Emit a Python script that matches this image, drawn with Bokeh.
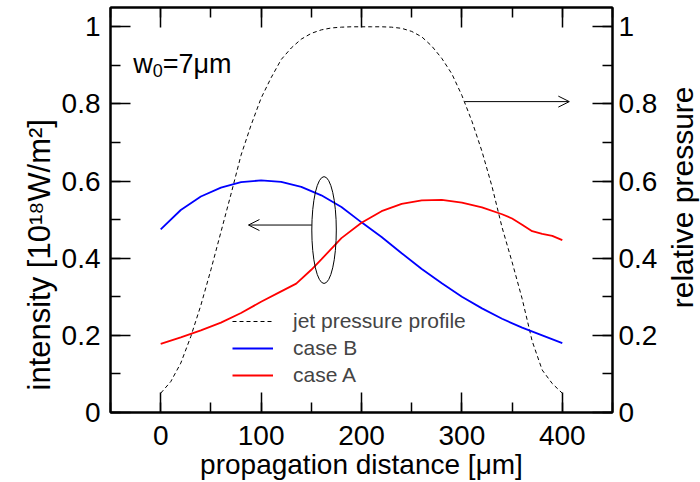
import math
from bokeh.plotting import figure
from bokeh.layouts import row
from bokeh.models import (LinearAxis, Range1d, SingleIntervalTicker, CustomJSTickFormatter,
                          Arrow, OpenHead, Legend, LegendItem, CustomLabelingPolicy, Label, Title)
from bokeh.core.properties import value
from bokeh.embed import file_html
from bokeh.resources import INLINE

# ---- data ----
dist_B = [0, 20, 40, 60, 80, 100, 120, 140, 160, 180, 200, 220, 240, 260, 280, 300, 320, 340, 360, 380, 400]
intensity_B = [0.475, 0.525, 0.560, 0.583, 0.597, 0.602, 0.598, 0.585, 0.563, 0.533, 0.493, 0.455,
               0.413, 0.372, 0.335, 0.300, 0.270, 0.243, 0.220, 0.200, 0.180]

dist_A = [0, 20, 40, 60, 80, 100, 120, 135, 150, 160, 180, 200, 220, 240, 260, 280, 300, 320, 340,
          350, 360, 370, 380, 390, 400]
intensity_A = [0.178, 0.195, 0.213, 0.233, 0.258, 0.287, 0.314, 0.334, 0.370, 0.397, 0.452, 0.492,
               0.522, 0.541, 0.550, 0.551, 0.544, 0.532, 0.514, 0.503, 0.487, 0.470, 0.463, 0.458, 0.447]

dist_P = [0, 10, 20, 30, 40, 50, 60, 70, 80, 90, 100, 110, 120, 130, 140, 150, 160, 170, 180, 190, 200,
          210, 220, 230, 240, 250, 260, 270, 280, 290, 300, 310, 320, 330, 340, 350, 360, 370, 380, 390, 400]
pressure = [0.050, 0.080, 0.128, 0.197, 0.278, 0.370, 0.468, 0.566, 0.667, 0.745, 0.815, 0.868, 0.915,
            0.945, 0.968, 0.983, 0.992, 0.997, 0.999, 1.000, 1.000,
            1.000, 1.000, 0.999, 0.996, 0.988, 0.974, 0.950, 0.918, 0.878, 0.822, 0.755, 0.677, 0.586,
            0.480, 0.390, 0.295, 0.185, 0.110, 0.075, 0.050]

series_labels = ["jet pressure profile", "case B", "case A"]
x_label = "propagation distance [μm]"
y_label = "intensity [10¹⁸W/m²]"
y2_label = "relative pressure"
note_parts = [("w", False), ("0", True), ("=7μm", False)]

FONT = "Liberation Sans"

# ---- layout (pixels) ----
W, H = 700, 482
SIDE_W = 40                      # narrow strip on the right holding the right-hand axis title
MAIN_W = W - SIDE_W
FRAME_L, FRAME_R, FRAME_T, FRAME_B = 110, 615, 7, 412
X0, X1, Y0, Y1 = -50, 450, 0, 1.05
PX_X = (FRAME_R - FRAME_L) / (X1 - X0)
PX_Y = (FRAME_B - FRAME_T) / (Y1 - Y0)

def dx(px):
    return X0 + (px - FRAME_L) / PX_X

def dy(py):
    return Y0 + (FRAME_B - py) / PX_Y

ADV = {"w": .722, "0": .556, "=": .584, "7": .556, "μ": .576, "m": .833}

def text_w(s, fs):
    return sum(ADV.get(c, .556) for c in s) * fs

p = figure(width=MAIN_W, height=H, x_range=Range1d(X0, X1), y_range=Range1d(Y0, Y1),
           output_backend="svg", toolbar_location=None,
           min_border_left=FRAME_L, min_border_right=MAIN_W - FRAME_R,
           min_border_top=FRAME_T, min_border_bottom=H - FRAME_B)
p.extra_y_ranges = {"p": Range1d(Y0, Y1)}
p.xgrid.visible = False
p.ygrid.visible = False
p.outline_line_color = "black"
p.outline_line_width = 2
p.background_fill_color = "white"
p.border_fill_color = "white"

FMT_CODE = "return tick.toFixed(1).replace(/\\.0$/, '');"

def style_axis(ax):
    ax.axis_line_width = 2
    ax.major_tick_in = 20
    ax.major_tick_out = 0
    ax.minor_tick_in = 10
    ax.minor_tick_out = 0
    ax.major_tick_line_width = 1.5
    ax.minor_tick_line_width = 1.5
    ax.major_label_text_font = FONT
    ax.major_label_text_font_size = "28px"
    ax.major_label_text_color = "black"
    ax.axis_label_text_font = FONT
    ax.axis_label_text_font_size = "28px"
    ax.axis_label_text_font_style = "normal"
    ax.axis_label_text_color = "black"

p.xaxis.ticker = SingleIntervalTicker(interval=100, num_minor_ticks=2)
p.yaxis.ticker = SingleIntervalTicker(interval=0.2, num_minor_ticks=2)
p.yaxis.formatter = CustomJSTickFormatter(code=FMT_CODE)
p.xaxis.axis_label = x_label
style_axis(p.xaxis[0])
style_axis(p.yaxis[0])
p.xaxis.major_label_standoff = 13
p.xaxis.axis_label_standoff = 1
p.yaxis.major_label_standoff = 10

top = LinearAxis(ticker=SingleIntervalTicker(interval=100, num_minor_ticks=2),
                 major_label_policy=CustomLabelingPolicy(
                     code="for (const i of [...indices]) { indices.unset(i) } return indices;"))
style_axis(top)
top.major_label_text_font_size = "0px"
top.major_label_standoff = 0
p.add_layout(top, "above")

right = LinearAxis(y_range_name="p", ticker=SingleIntervalTicker(interval=0.2, num_minor_ticks=2),
                   formatter=CustomJSTickFormatter(code=FMT_CODE))
style_axis(right)
right.major_label_standoff = 6
p.add_layout(right, "right")

# left axis title as a side title so it can sit below centre like the reference
ytitle = Title(text=y_label, align="left", offset=22, standoff=4,
               text_font=FONT, text_font_size="31px", text_font_style="normal", text_color="black")
p.add_layout(ytitle, "left")

# ---- series ----
r_p = p.line(dist_P, pressure, y_range_name="p", line_color="black", line_width=1, line_dash="4 3")
r_b = p.line(dist_B, intensity_B, line_color="#0000ff", line_width=1.8)
r_a = p.line(dist_A, intensity_A, line_color="#ff0000", line_width=1.8)

# ---- annotations ----
ELL_X, ELL_Y, ELL_W, ELL_H = 162.7, 0.473, 24.4, 0.277
LARROW = (150.5, 0.486, 87.4, 0.486)
RARROW = (303.0, 0.806, 407.0, 0.806)

p.ellipse(x=ELL_X, y=ELL_Y, width=ELL_W, height=ELL_H, fill_color=None, line_color="black", line_width=1)
for (xs, ys, xe, ye) in (LARROW, RARROW):
    p.add_layout(Arrow(end=OpenHead(size=11, line_width=1, line_color="black"),
                       x_start=xs, y_start=ys, x_end=xe, y_end=ye,
                       line_width=1, line_color="black"))

# w0 = 7 um note (subscript drawn smaller and lower)
NOTE_PX, NOTE_PY = 133, 63
MAIN_FS, SUB_FS = 27, 18
off = 0.0
for txt, sub in note_parts:
    fs = SUB_FS if sub else MAIN_FS
    p.add_layout(Label(x=dx(NOTE_PX + off), y=dy(NOTE_PY + (7 if sub else 0)), text=txt,
                       text_font=FONT, text_font_size=f"{fs}px", text_color="black",
                       text_align="left", text_baseline="alphabetic"))
    off += text_w(txt, fs)

legend = Legend(items=[LegendItem(label=series_labels[0], renderers=[r_p]),
                       LegendItem(label=series_labels[1], renderers=[r_b]),
                       LegendItem(label=series_labels[2], renderers=[r_a])],
                location=(122, 25), padding=0, margin=0, spacing=3,
                glyph_width=41, glyph_height=20, label_height=20, label_standoff=20,
                label_text_font=FONT, label_text_font_size="21px",
                border_line_alpha=0, background_fill_alpha=0)
p.add_layout(legend)

# ---- right-hand axis title strip (reads bottom to top, as in the reference) ----
side = figure(width=SIDE_W, height=H, x_range=Range1d(0, SIDE_W), y_range=Range1d(0, H),
              output_backend="svg", toolbar_location=None, min_border=0)
side.axis.visible = False
side.xgrid.visible = False
side.ygrid.visible = False
side.outline_line_color = None
side.background_fill_color = "white"
side.border_fill_color = "white"
RT_CX, RT_CY = 682 - MAIN_W, H - 226
side.text(x=[RT_CX], y=[RT_CY], text=[y2_label], angle=math.pi / 2,
          text_font=value(FONT), text_font_size="30px", text_color="black",
          text_align="center", text_baseline="middle")

layout = row(p, side, spacing=0)
open("out.html", "w").write(file_html(layout, INLINE))
